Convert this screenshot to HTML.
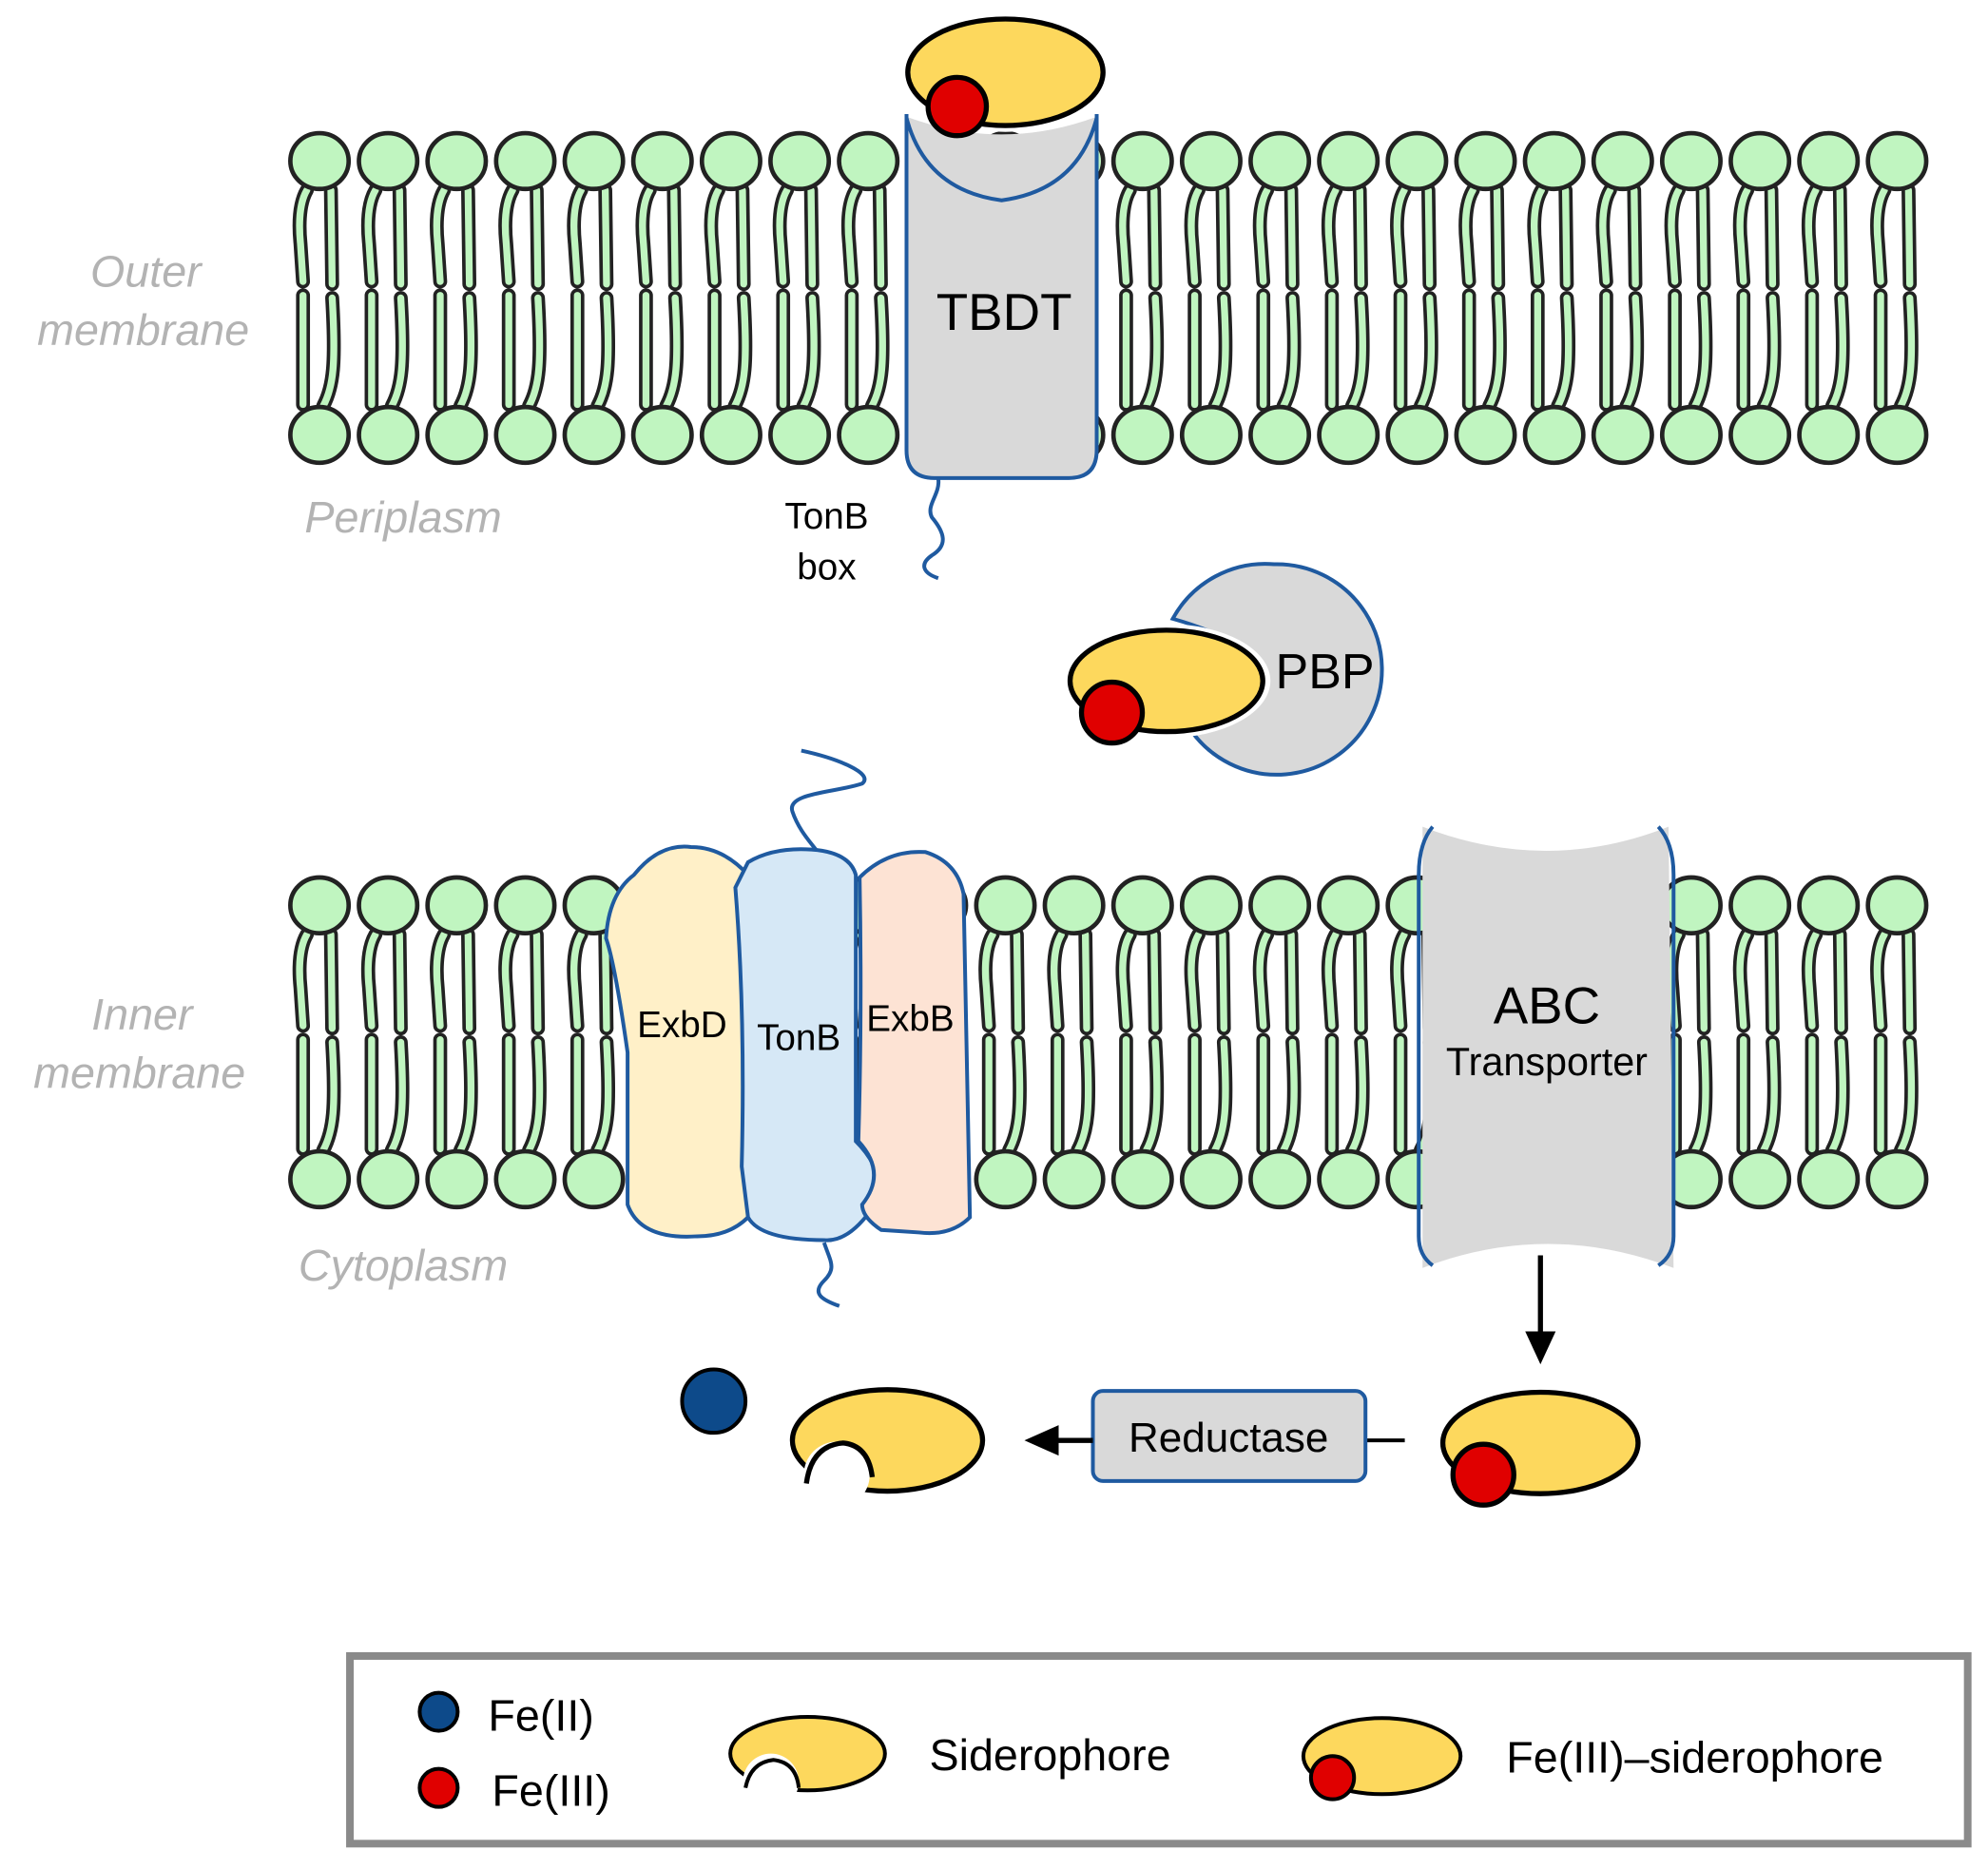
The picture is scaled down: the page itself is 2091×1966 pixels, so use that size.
<!DOCTYPE html>
<html><head><meta charset="utf-8"><style>
html,body{margin:0;padding:0;background:#fff}
svg{display:block}
text{font-family:"Liberation Sans",Arial,sans-serif}
.lbl{fill:#b3b3b3;font-style:italic;font-size:35px}
</style></head><body>
<svg id="s" width="2091" height="1966" viewBox="0 0 1568 1474" preserveAspectRatio="none" xmlns="http://www.w3.org/2000/svg">
<g id="lip"></g>
<!-- TBDT -->
<rect x="712" y="60" width="156" height="40" fill="#fff"/>
<path d="M715,92 Q790,120 865,92 L865,355 Q865,377 843,377 L737,377 Q715,377 715,355 Z" fill="#d9d9d9"/>
<path d="M715,90 L715,355 Q715,377 737,377 L843,377 Q865,377 865,355 L865,90" fill="none" stroke="#1f5aa0" stroke-width="3"/>
<path d="M715,93 Q730,150 790,158 Q850,150 865,93" fill="none" stroke="#1f5aa0" stroke-width="3"/>
<ellipse cx="793" cy="57" rx="82" ry="47" fill="#fff"/>
<ellipse cx="793" cy="57" rx="77" ry="42" fill="#fdd85d" stroke="#000" stroke-width="4"/>
<circle cx="755" cy="84" r="23" fill="#e00000" stroke="#000" stroke-width="4"/>
<text x="792" y="260" font-size="41" text-anchor="middle">TBDT</text>
<path d="M740,377 C742,390 730,398 735,408 C745,420 748,430 735,438 C725,445 728,452 740,456" fill="none" stroke="#1f5aa0" stroke-width="3"/>
<text x="652" y="417" font-size="29" text-anchor="middle">TonB</text>
<text x="652" y="457" font-size="29" text-anchor="middle">box</text>
<!-- labels -->
<text class="lbl" x="115" y="226" text-anchor="middle">Outer</text>
<text class="lbl" x="113" y="272" text-anchor="middle">membrane</text>
<text class="lbl" x="318" y="420" text-anchor="middle">Periplasm</text>
<text class="lbl" x="112" y="812" text-anchor="middle">Inner</text>
<text class="lbl" x="110" y="858" text-anchor="middle">membrane</text>
<text class="lbl" x="318" y="1010" text-anchor="middle">Cytoplasm</text>
<!-- PBP -->
<path d="M1005,445 A83,83 0 1 1 940,577 Q990,545 990,528 Q985,505 925,488 A83,83 0 0 1 1005,445 Z" fill="#d9d9d9" stroke="#1f5aa0" stroke-width="3"/>
<ellipse cx="920" cy="537" rx="82" ry="45" fill="#fff"/>
<ellipse cx="920" cy="537" rx="76" ry="40" fill="#fdd85d" stroke="#000" stroke-width="4"/>
<circle cx="877" cy="562" r="24" fill="#e00000" stroke="#000" stroke-width="4"/>
<text x="1045" y="543" font-size="39" text-anchor="middle">PBP</text>
<!-- complex -->
<path d="M632,592 C660,598 690,610 680,618 C660,625 620,625 625,640 C630,655 640,665 645,672" fill="none" stroke="#1f5aa0" stroke-width="3"/>
<path d="M650,980 C655,995 660,1000 650,1010 C640,1020 648,1025 662,1030" fill="none" stroke="#1f5aa0" stroke-width="3"/>
<path d="M500,690 Q520,665 545,668 Q570,668 590,690 L590,960 Q575,975 550,975 Q505,978 495,950 L495,830 Q485,760 478,740 Q480,705 500,690 Z" fill="#fff0c8" stroke="#1f5aa0" stroke-width="3"/>
<path d="M590,680 Q610,668 640,670 Q670,672 675,690 L675,900 Q700,925 690,950 Q670,980 650,978 Q600,978 590,960 L585,920 Q588,800 580,700 Z" fill="#d6e8f6" stroke="#1f5aa0" stroke-width="3"/>
<path d="M678,692 Q700,670 730,672 Q755,680 760,705 L765,960 Q750,975 725,972 L695,970 Q680,960 680,950 Q700,925 677,900 Q680,800 678,692 Z" fill="#fde3d4" stroke="#1f5aa0" stroke-width="3"/>
<text x="538" y="818" font-size="29" text-anchor="middle">ExbD</text>
<text x="630" y="828" font-size="29" text-anchor="middle">TonB</text>
<text x="718" y="813" font-size="29" text-anchor="middle">ExbB</text>
<!-- ABC -->
<path d="M1122,652 Q1220,690 1316,652 L1320,1000 Q1220,962 1122,1000 Z" fill="#d9d9d9"/>
<path d="M1130,652 Q1119,665 1119,690 L1119,975 Q1119,990 1130,998" fill="none" stroke="#1f5aa0" stroke-width="3"/>
<path d="M1308,652 Q1320,665 1320,690 L1320,975 Q1320,990 1308,998" fill="none" stroke="#1f5aa0" stroke-width="3"/>
<text x="1220" y="807" font-size="41" text-anchor="middle">ABC</text>
<text x="1220" y="848" font-size="31" text-anchor="middle">Transporter</text>
<!-- bottom pathway -->
<line x1="1215" y1="990" x2="1215" y2="1055" stroke="#000" stroke-width="4"/>
<path d="M1203,1050 L1227,1050 L1215,1076 Z" fill="#000"/>
<ellipse cx="1215" cy="1138" rx="77" ry="40" fill="#fdd85d" stroke="#000" stroke-width="4"/>
<circle cx="1170" cy="1163" r="24" fill="#e00000" stroke="#000" stroke-width="4"/>
<line x1="1108" y1="1136" x2="1078" y2="1136" stroke="#000" stroke-width="3"/>
<rect x="862" y="1097" width="215" height="71" rx="8" fill="#d9d9d9" stroke="#1f5aa0" stroke-width="3"/>
<text x="969" y="1145" font-size="33" text-anchor="middle">Reductase</text>
<line x1="862" y1="1136" x2="830" y2="1136" stroke="#000" stroke-width="4"/>
<path d="M835,1124 L835,1148 L808,1136 Z" fill="#000"/>
<ellipse cx="700" cy="1136" rx="75" ry="40" fill="#fdd85d" stroke="#000" stroke-width="4"/>
<circle cx="660" cy="1163" r="26" fill="#fff"/>
<path d="M636,1170 Q640,1140 665,1138 Q685,1140 688,1165" fill="none" stroke="#000" stroke-width="4"/>
<circle cx="563" cy="1105" r="25" fill="#0d4a8a" stroke="#000" stroke-width="3"/>
<!-- legend -->
<rect x="276" y="1306" width="1276" height="148" fill="#fff" stroke="#8a8a8a" stroke-width="6"/>
<circle cx="346" cy="1350" r="15" fill="#0d4a8a" stroke="#000" stroke-width="3"/>
<text x="385" y="1365" font-size="35">Fe(II)</text>
<circle cx="346" cy="1410" r="15" fill="#e00000" stroke="#000" stroke-width="3"/>
<text x="388" y="1424" font-size="35">Fe(III)</text>
<ellipse cx="637" cy="1383" rx="61" ry="29" fill="#fdd85d" stroke="#000" stroke-width="3"/>
<circle cx="608" cy="1405" r="22" fill="#fff"/>
<path d="M588,1410 Q592,1390 610,1388 Q628,1390 630,1410" fill="none" stroke="#000" stroke-width="3"/>
<text x="733" y="1396" font-size="35">Siderophore</text>
<ellipse cx="1090" cy="1385" rx="62" ry="30" fill="#fdd85d" stroke="#000" stroke-width="3"/>
<circle cx="1051" cy="1402" r="17" fill="#e00000" stroke="#000" stroke-width="3"/>
<text x="1188" y="1398" font-size="35">Fe(III)–siderophore</text>
</svg>
<script>
var g=document.getElementById('lip'),h='';
function lipid(cx,y0){
 var t='fill="none" stroke-linecap="round"';
 var paths=['M'+(cx-10)+','+(y0+23)+' C'+(cx-17)+','+(y0+35)+' '+(cx-16)+','+(y0+55)+' '+(cx-15)+','+(y0+65)+' L'+(cx-13)+','+(y0+95),
 'M'+(cx+9)+','+(y0+23)+' L'+(cx+10)+','+(y0+97),
 'M'+(cx-13)+','+(y0+106)+' L'+(cx-13)+','+(y0+192),
 'M'+(cx+10)+','+(y0+108)+' C'+(cx+13)+','+(y0+160)+' '+(cx+11)+','+(y0+178)+' '+(cx+3)+','+(y0+193)];
 paths.forEach(function(p){h+='<path d="'+p+'" '+t+' stroke="#222" stroke-width="11"/>';});
 paths.forEach(function(p){h+='<path d="'+p+'" '+t+' stroke="#c0f5c0" stroke-width="5.5"/>';});
 h+='<ellipse cx="'+cx+'" cy="'+y0+'" rx="23" ry="22" fill="#c0f5c0" stroke="#222" stroke-width="3.5"/>';
 h+='<ellipse cx="'+cx+'" cy="'+(y0+216)+'" rx="23" ry="22" fill="#c0f5c0" stroke="#222" stroke-width="3.5"/>';
}
for(var i=0;i<24;i++){var x=252+54.1*i;lipid(x,127);lipid(x,714);}
g.innerHTML=h;
</script>
</body></html>
